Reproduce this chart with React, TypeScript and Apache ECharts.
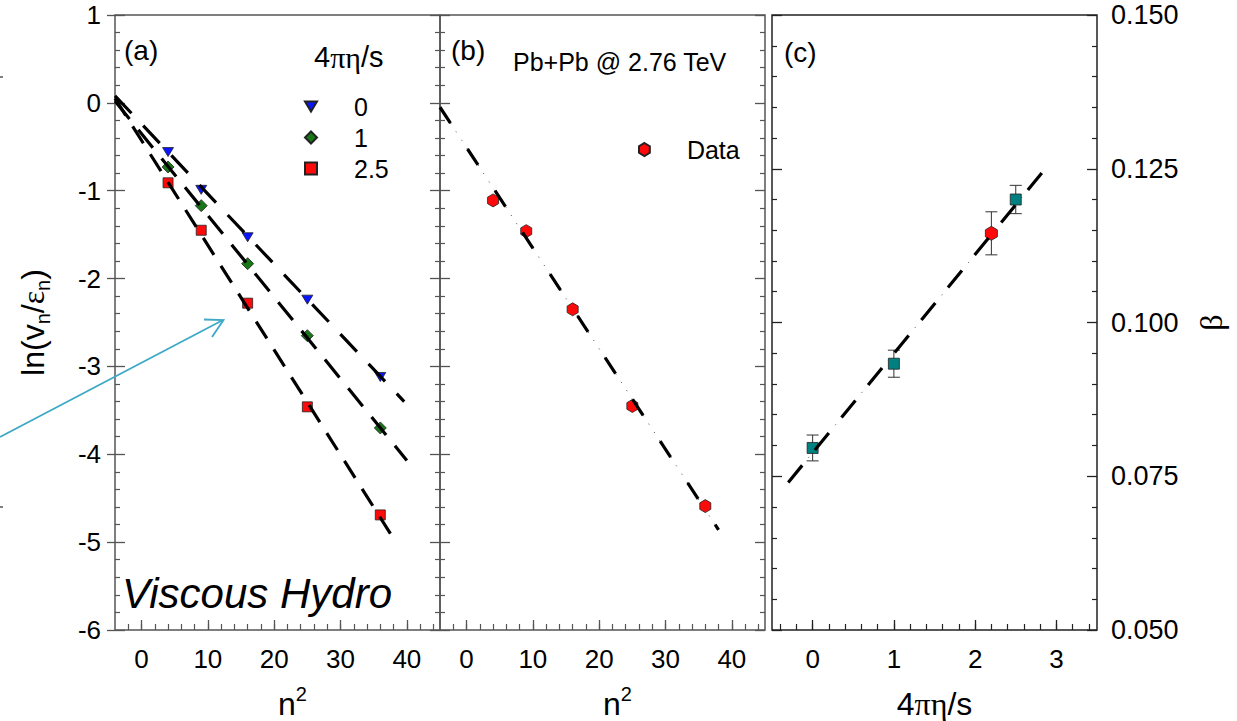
import React, { useEffect, useRef } from "react";
import * as echarts from "echarts";

// ---- values ----
const n2 = [4, 9, 16, 25, 36];
const hydroEta0 = [-0.56, -0.99, -1.53, -2.24, -3.12];
const hydroEta1 = [-0.73, -1.17, -1.83, -2.65, -3.7];
const hydroEta25 = [-0.91, -1.45, -2.28, -3.46, -4.69];
const dataLn = [-1.11, -1.46, -2.35, -3.45, -4.59];

// straight-line fits, given by their two end points [n^2, ln(v/eps)]
const fitEta0 = [[-4, 0.08], [39.6, -3.4]];
const fitEta1 = [[-4, 0.02], [40, -4.07]];
const fitEta25 = [[-4, 0.05], [38, -4.96]];
const fitData = [[-4, -0.05], [38, -4.86]];

const etaS = [0, 1, 2.5];
const betaHydro = [0.0796, 0.0933, 0.12];
const betaHydroErr = [0.0021, 0.0022, 0.0023];
const etaSData = [2.2];
const betaData = [0.1145];
const betaDataErr = [0.0035];
const fitBeta = [[-0.3, 0.074], [2.845, 0.1247]];

const legendEta = ["0", "1", "2.5"];
const xTicksN2 = [0, 10, 20, 30, 40];
const xTicksEta = [0, 1, 2, 3];

const FONT = "'Liberation Sans', Arial, Helvetica, sans-serif";
const SERIF = "'Liberation Serif', 'Times New Roman', serif";
const AX = "#555";
const AXC = "#222";

const TRI_DOWN = "path://M0,0L12,0L6,10Z";
const HEXAGON = "path://M5,0L10,3L10,9L5,12L0,9L0,3Z";

function ticksBetween(start: number, end: number, step: number): number[] {
  const out: number[] = [];
  const n = Math.round((end - start) / step);
  for (let i = 0; i <= n; i++) out.push(+(start + i * step).toFixed(6));
  return out;
}

const minorN2 = ticksBetween(-2, 44, 2);
const minorEta = ticksBetween(-0.4, 3.4, 0.2);

const pairs = (xs: number[], ys: number[]) => xs.map((x, i) => [x, ys[i]]);
const triples = (xs: number[], ys: number[], es: number[]) => xs.map((x, i) => [x, ys[i], es[i]]);

const markerBorder = { borderColor: "#222", borderWidth: 0.8, opacity: 1 };

const nameRich = {
  a: { fontSize: 32, fontFamily: FONT, color: "#000", lineHeight: 40 },
  g: { fontSize: 32, fontFamily: SERIF, color: "#000", lineHeight: 40 },
  s: { fontSize: 20, fontFamily: FONT, color: "#000", lineHeight: 20, verticalAlign: "bottom" },
  p: { fontSize: 20, fontFamily: FONT, color: "#000", lineHeight: 20, verticalAlign: "top" },
};

const noLine = { show: false, onZero: false };

function majorX(gridIndex: number, min: number, max: number, values: number[], name: string, color: string, pad: number) {
  return {
    type: "value",
    gridIndex,
    min,
    max,
    position: "bottom",
    axisLine: noLine,
    splitLine: { show: false },
    axisTick: { show: true, inside: true, length: 10, customValues: values, lineStyle: { color, width: 1.3 } },
    axisLabel: { show: true, customValues: values, fontSize: 26, fontFamily: FONT, color: "#000", margin: 16 },
    name,
    nameLocation: "middle",
    nameGap: 54,
    nameTextStyle: { rich: nameRich, padding: [0, 0, 0, pad] },
  };
}

function minorX(gridIndex: number, min: number, max: number, values: number[], color: string) {
  return {
    type: "value",
    gridIndex,
    min,
    max,
    position: "bottom",
    axisLine: noLine,
    splitLine: { show: false },
    axisLabel: { show: false },
    axisTick: { show: true, inside: true, length: 6, customValues: values, lineStyle: { color, width: 1.2 } },
  };
}

function tickY(gridIndex: number, position: string, min: number, max: number, interval: number, color: string, extra: any = {}) {
  return {
    type: "value",
    gridIndex,
    position,
    min,
    max,
    interval,
    axisLine: noLine,
    splitLine: { show: false },
    axisLabel: { show: false },
    axisTick: { show: true, inside: true, length: 10, lineStyle: { color, width: 1.3 } },
    minorTick: { show: true, splitNumber: 5, length: 5, lineStyle: { color, width: 1.2 } },
    ...extra,
  };
}

const xAxis = [
  majorX(0, -4, 45, xTicksN2, "{a|n}{p|2}", AX, 30),
  minorX(0, -4, 45, minorN2, AX),
  majorX(1, -4, 45, xTicksN2, "{a|n}{p|2}", AX, 30),
  minorX(1, -4, 45, minorN2, AX),
  majorX(2, -0.5, 3.5, xTicksEta, "{a|4}{g|πη}{a|/s}", AXC, 0),
  minorX(2, -0.5, 3.5, minorEta, AXC),
];

const yAxis = [
  tickY(0, "left", -6, 1, 1, AX, {
    axisLabel: { show: true, fontSize: 26, fontFamily: FONT, color: "#000", margin: 14 },
    name: "{a|ln(v}{s|n}{a|/}{g|ε}{s|n}{a|)}",
    nameLocation: "middle",
    nameRotate: 90,
    nameGap: 62,
    nameTextStyle: { rich: nameRich },
  }),
  {
    type: "value",
    gridIndex: 0,
    position: "left",
    min: -6,
    max: 1,
    interval: 1,
    axisLine: noLine,
    splitLine: { show: false },
    axisLabel: { show: false },
    axisTick: { show: true, inside: false, length: 8, lineStyle: { color: AX, width: 1.3 } },
  },
  tickY(0, "right", -6, 1, 1, AX),
  tickY(1, "left", -6, 1, 1, AX),
  tickY(1, "right", -6, 1, 1, AX),
  tickY(2, "left", 0.05, 0.15, 0.025, AXC),
  tickY(2, "right", 0.05, 0.15, 0.025, AXC, {
    axisLabel: {
      show: true,
      fontSize: 27,
      fontFamily: FONT,
      color: "#000",
      margin: 14,
      formatter: (v: number) => v.toFixed(3),
    },
    name: "{g|β}",
    nameLocation: "middle",
    nameRotate: 90,
    nameGap: 94,
    nameTextStyle: { rich: nameRich },
  }),
];

const grid = [
  { left: 115, top: 15, width: 325, height: 615, borderColor: AX },
  { left: 440, top: 15, width: 325, height: 615, borderColor: AX },
  { left: 772, top: 15, width: 325, height: 615, borderColor: AXC },
].map((g) => ({ ...g, show: true, borderWidth: 1.5, backgroundColor: "transparent", containLabel: false, outerBoundsMode: "none" }));

function fitLine(data: number[][], xi: number, yi: number, dash: number[], width: number, color = "#000", offset = 0) {
  return {
    type: "line",
    xAxisIndex: xi,
    yAxisIndex: yi,
    data,
    showSymbol: false,
    symbol: "none",
    silent: true,
    z: 5,
    lineStyle: { color, width, type: dash, dashOffset: offset, cap: "butt" },
  };
}

const errorBars = (xi: number, yi: number, data: number[][]) => ({
  type: "custom",
  xAxisIndex: xi,
  yAxisIndex: yi,
  data,
  encode: { x: 0, y: 1 },
  z: 2,
  silent: true,
  renderItem: (_params: any, api: any) => {
    const x = api.value(0);
    const y = api.value(1);
    const e = api.value(2);
    const top = api.coord([x, y + e]);
    const bot = api.coord([x, y - e]);
    const hw = 6;
    const st = { stroke: "#333", lineWidth: 1 };
    return {
      type: "group",
      children: [
        { type: "line", shape: { x1: top[0], y1: top[1], x2: bot[0], y2: bot[1] }, style: st },
        { type: "line", shape: { x1: top[0] - hw, y1: top[1], x2: top[0] + hw, y2: top[1] }, style: st },
        { type: "line", shape: { x1: bot[0] - hw, y1: bot[1], x2: bot[0] + hw, y2: bot[1] }, style: st },
      ],
    };
  },
});

const series: any[] = [
  {
    name: legendEta[0],
    type: "scatter",
    xAxisIndex: 0,
    yAxisIndex: 0,
    data: pairs(n2, hydroEta0),
    symbol: TRI_DOWN,
    symbolSize: [11, 9],
    itemStyle: { color: "#0a14ff", ...markerBorder },
    z: 3,
  },
  {
    name: legendEta[1],
    type: "scatter",
    xAxisIndex: 0,
    yAxisIndex: 0,
    data: pairs(n2, hydroEta1),
    symbol: "diamond",
    symbolSize: [12, 12],
    itemStyle: { color: "#187818", ...markerBorder },
    z: 3,
  },
  {
    name: legendEta[2],
    type: "scatter",
    xAxisIndex: 0,
    yAxisIndex: 0,
    data: pairs(n2, hydroEta25),
    symbol: "rect",
    symbolSize: 10,
    itemStyle: { color: "#ff0a0a", ...markerBorder },
    z: 3,
  },
  fitLine(fitEta0, 0, 0, [24, 17], 3.2),
  fitLine(fitEta1, 0, 0, [23, 14], 3.2),
  fitLine(fitEta25, 0, 0, [20, 13], 3.2),

  {
    name: "Data",
    type: "scatter",
    xAxisIndex: 2,
    yAxisIndex: 3,
    data: pairs(n2, dataLn),
    symbol: HEXAGON,
    symbolSize: [11, 13],
    itemStyle: { color: "#ff0a0a", ...markerBorder },
    z: 3,
  },
  fitLine(fitData, 2, 3, [1, 9], 1, "#444", 1),
  fitLine(fitData, 2, 3, [19, 31], 3.2),

  errorBars(4, 5, triples(etaS, betaHydro, betaHydroErr)),
  errorBars(4, 5, triples(etaSData, betaData, betaDataErr)),
  {
    name: "Hydro β",
    type: "scatter",
    xAxisIndex: 4,
    yAxisIndex: 5,
    data: pairs(etaS, betaHydro),
    symbol: "rect",
    symbolSize: 11,
    itemStyle: { color: "#008080", ...markerBorder },
    z: 3,
  },
  {
    name: "Data β",
    type: "scatter",
    xAxisIndex: 4,
    yAxisIndex: 5,
    data: pairs(etaSData, betaData),
    symbol: HEXAGON,
    symbolSize: [12, 14],
    itemStyle: { color: "#ff0a0a", ...markerBorder },
    z: 3,
  },
  fitLine(fitBeta, 4, 5, [1, 41], 1, "#444", 10),
  fitLine(fitBeta, 4, 5, [22, 20], 3.2),
];

const legendText = { fontSize: 25, fontFamily: FONT, color: "#000", padding: [0, 0, 0, 32] };

const legend = [
  {
    data: legendEta,
    orient: "vertical",
    left: 299,
    top: 89,
    itemWidth: 12,
    itemHeight: 12,
    itemGap: 6,
    selectedMode: false,
    textStyle: legendText,
  },
  {
    data: ["Data"],
    orient: "vertical",
    left: 633,
    top: 132,
    itemWidth: 11,
    itemHeight: 13,
    selectedMode: false,
    textStyle: legendText,
  },
];

const txt = (text: string, x: number, y: number, size: number, extra: any = {}) => ({
  type: "text",
  x,
  y,
  silent: true,
  style: { text, fontSize: size, fontFamily: FONT, fill: "#000", align: "left", verticalAlign: "middle", ...extra },
});

const graphic = [
  txt("(a)", 124, 50, 28),
  txt("(b)", 451, 50, 28),
  txt("(c)", 784, 52, 28),
  txt("Pb+Pb @ 2.76 TeV", 513, 62, 25),
  txt("Viscous Hydro", 122, 593, 42, { fontStyle: "italic" }),
  {
    type: "text",
    x: 314,
    y: 57,
    silent: true,
    style: {
      text: "{a|4}{g|πη}{a|/s}",
      align: "left",
      verticalAlign: "middle",
      rich: {
        a: { fontSize: 29, fontFamily: FONT, fill: "#000" },
        g: { fontSize: 30, fontFamily: SERIF, fill: "#000" },
      },
    },
  },
  // annotation arrow
  {
    type: "line",
    silent: true,
    shape: { x1: 0, y1: 437, x2: 223, y2: 320 },
    style: { stroke: "#3ea9c6", lineWidth: 1.8 },
  },
  {
    type: "polyline",
    silent: true,
    shape: { points: [[204, 319.5], [223.5, 320], [212, 337]] },
    style: { stroke: "#3ea9c6", lineWidth: 1.8, fill: null },
  },
  // small marks at the left margin
  { type: "line", silent: true, shape: { x1: 0, y1: 77, x2: 3, y2: 77 }, style: { stroke: "#555", lineWidth: 1.5 } },
  { type: "line", silent: true, shape: { x1: 0, y1: 507, x2: 3, y2: 507 }, style: { stroke: "#555", lineWidth: 1.5 } },
];

const option = {
  animation: false,
  backgroundColor: "#fff",
  textStyle: { fontFamily: FONT },
  grid,
  xAxis,
  yAxis,
  legend,
  series,
  graphic,
};

export default function App() {
  const ref = useRef<HTMLDivElement>(null);
  useEffect(() => {
    if (!ref.current) return;
    const chart = echarts.init(ref.current, null, { renderer: "svg" });
    chart.setOption(option as any);
    return () => chart.dispose();
  }, []);
  return <div ref={ref} style={{ position: "fixed", left: 0, top: 0, width: 1237, height: 721 }} />;
}
